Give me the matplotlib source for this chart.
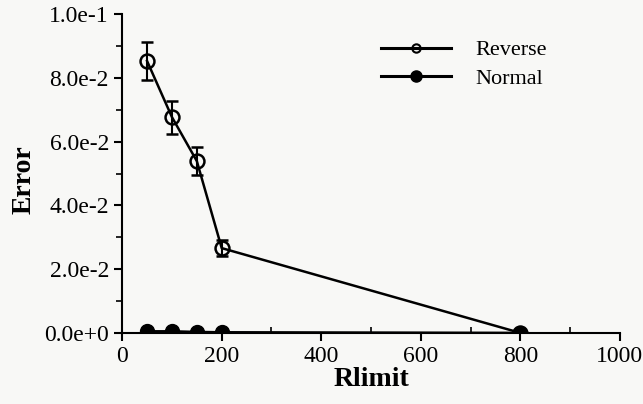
import matplotlib
matplotlib.use("Agg")
import matplotlib.pyplot as plt
from matplotlib.ticker import MultipleLocator
from matplotlib.lines import Line2D

rlimit = [50, 100, 150, 200, 800]
reverse_err = [0.0853, 0.0677, 0.0539, 0.0266, 0.0]
reverse_sd = [0.0060, 0.0052, 0.0045, 0.0024, 0.0]
normal_err = [0.0005, 0.0005, 0.0003, 0.0002, 0.0]
ytick_labels = ["0.0e+0", "2.0e-2", "4.0e-2", "6.0e-2", "8.0e-2", "1.0e-1"]

plt.rcParams['font.family'] = ['Liberation Serif', 'DejaVu Serif']

bg = '#f8f8f6'
fig = plt.figure(figsize=(6.43, 4.04), dpi=100, facecolor=bg)
ax = fig.add_axes([0.19, 0.176, 0.774, 0.789], facecolor=bg)

ax.errorbar(rlimit, reverse_err, yerr=reverse_sd, color='black', lw=1.8,
            marker='o', ms=10, mfc='none', mec='black', mew=1.8,
            capsize=4, elinewidth=1.5, capthick=1.5, zorder=3)
ax.plot(rlimit, normal_err, color='black', lw=1.8, marker='o', ms=10,
        mfc='black', mec='black', zorder=4)

ax.set_xlim(0, 1000)
ax.set_ylim(0, 0.1)
ax.xaxis.set_major_locator(MultipleLocator(200))
ax.xaxis.set_minor_locator(MultipleLocator(100))
ax.yaxis.set_minor_locator(MultipleLocator(0.01))
ax.set_yticks([0, 0.02, 0.04, 0.06, 0.08, 0.1])
ax.set_yticklabels(ytick_labels)

for s in ['top', 'right']:
    ax.spines[s].set_visible(False)
for s in ['left', 'bottom']:
    ax.spines[s].set_linewidth(1.5)

ax.tick_params(axis='both', which='major', labelsize=17, width=1.5, length=6)
ax.tick_params(axis='both', which='minor', width=1.2, length=4)
ax.tick_params(axis='x', which='minor', direction='in')

ax.set_xlabel('Rlimit', fontsize=20, fontweight='bold', labelpad=0)
ax.set_ylabel('Error', fontsize=20, fontweight='bold')
ax.yaxis.set_label_coords(-0.173, 0.48)

handles = [
    Line2D([], [], color='black', lw=2.2, marker='o', ms=6, mfc='none',
           mec='black', mew=1.5),
    Line2D([], [], color='black', lw=2.2, marker='o', ms=8, mfc='black',
           mec='black'),
]
ax.legend(handles, ['Reverse', 'Normal'], loc='upper left',
          bbox_to_anchor=(0.48, 0.982), frameon=False, fontsize=16,
          handlelength=3.15, handletextpad=1.1, labelspacing=0.37)

fig.savefig('out.png', dpi=100, facecolor=bg)
